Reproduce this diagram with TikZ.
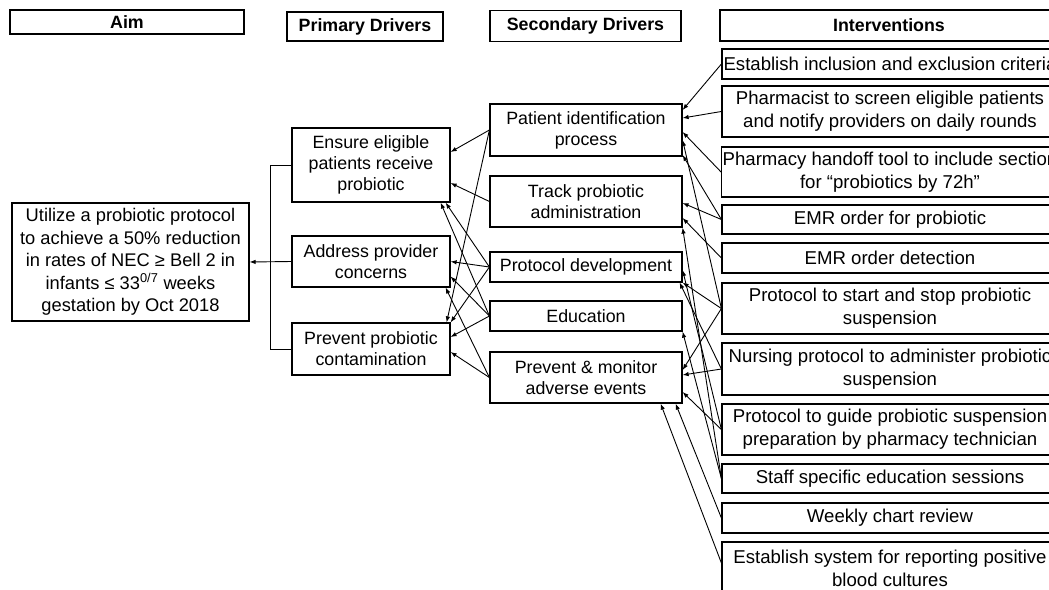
\documentclass[tikz,border=0pt]{standalone}
\usepackage{fontspec}
\setmainfont{Liberation Sans}
\usetikzlibrary{arrows.meta}
\begin{document}
\begin{tikzpicture}[x=1pt,y=-1pt,
  bx/.style={draw=black,line width=1.2pt,inner sep=1pt,align=center,rectangle},
  hdr/.style={bx,font=\bfseries\fontsize{17.8}{21}\selectfont},
  drv/.style={bx,minimum width=158pt,font=\fontsize{17.8}{21}\selectfont},
  sec/.style={bx,minimum width=192pt,font=\fontsize{17.8}{21}\selectfont},
  intv/.style={bx,minimum width=336pt,font=\fontsize{18.6}{23}\selectfont},
  arr/.style={-{Latex[length=6pt,width=4.5pt]},line width=0.9pt}]
\useasboundingbox (0,0) rectangle (1049,589);
\fill[white] (0,0) rectangle (1049,589);
\clip (0,0) rectangle (1049,589);
% headers
\node[hdr,minimum width=234pt,minimum height=24pt] (aimh) at (127,22) {Aim};
\node[hdr,minimum width=156pt,minimum height=29pt] (primh) at (365,26.5) {Primary Drivers};
\node[hdr,minimum width=191pt,minimum height=31pt] (sech) at (585.5,26) {Secondary Drivers};
\node[hdr,minimum width=338pt,minimum height=31pt] (inth) at (889,25.5) {Interventions};
% aim
\node[bx,minimum width=237pt,minimum height=118pt,font=\fontsize{18.3}{22.5}\selectfont] (aim) at (130.5,262)
  {Utilize a probiotic protocol\\to achieve a 50\% reduction\\in rates of NEC ≥ Bell 2 in\\infants ≤ 33\textsuperscript{0/7} weeks\\gestation by Oct 2018};
% primary drivers
\node[drv,minimum height=74pt] (ens) at (371,165) {Ensure eligible\\patients receive\\probiotic};
\node[drv,minimum height=51pt] (addr) at (371,261.5) {Address provider\\concerns};
\node[drv,minimum height=52pt] (prev) at (371,349) {Prevent probiotic\\contamination};
% secondary drivers
\node[sec,minimum height=52pt] (pid) at (586,130) {Patient identification\\process};
\node[sec,minimum height=51pt] (track) at (586,201.5) {Track probiotic\\administration};
\node[sec,minimum height=30pt] (proto) at (586,267) {Protocol development};
\node[sec,minimum height=30pt] (edu) at (586,316) {Education};
\node[sec,minimum height=51pt] (pm) at (586,377.5) {Prevent \& monitor\\adverse events};
% interventions
\node[intv,minimum height=30pt] (est) at (890,64) {Establish inclusion and exclusion criteria};
\node[intv,minimum height=51pt] (pharm) at (890,111.5) {Pharmacist to screen eligible patients\\and notify providers on daily rounds};
\node[intv,minimum height=50pt] (handoff) at (890,172) {Pharmacy handoff tool to include section\\for “probiotics by 72h”};
\node[intv,minimum height=29pt] (emr) at (890,219.5) {EMR order for probiotic};
\node[intv,minimum height=30pt] (det) at (890,258) {EMR order detection};
\node[intv,minimum height=51pt] (start) at (890,308.5) {Protocol to start and stop probiotic\\suspension};
\node[intv,minimum height=52pt] (nurse) at (890,369) {Nursing protocol to administer probiotic\\suspension};
\node[intv,minimum height=51pt] (guide) at (890,429.5) {Protocol to guide probiotic suspension\\preparation by pharmacy technician};
\node[intv,minimum height=29pt] (staff) at (890,478.5) {Staff specific education sessions};
\node[intv,minimum height=30pt] (weekly) at (890,518) {Weekly chart review};
\node[intv,minimum height=52pt] (estsys) at (890,568) {Establish system for reporting positive\\blood cultures};
% bracket to aim
\draw[line width=0.9pt] (ens.west) -- ++(-21,0) |- (prev.west);
\draw[arr] (addr.west) -- (aim.east);
% secondary -> primary
\draw[arr] (pid.west) -- ([yshift=13pt]ens.east);
\draw[arr] (pid.west) -- ([xshift=-4pt]prev.north east);
\draw[arr] (track.west) -- ([yshift=-18pt]ens.east);
\draw[arr] (proto.west) -- ([xshift=-5pt]ens.south east);
\draw[arr] (edu.west) -- ([xshift=-10pt]ens.south east);
\draw[arr] (proto.west) -- (addr.east);
\draw[arr] (edu.west) -- ([yshift=-15pt]addr.east);
\draw[arr] (pm.west) -- ([xshift=-5pt]addr.south east);
\draw[arr] (proto.west) -- (prev.north east);
\draw[arr] (edu.west) -- ([yshift=12pt]prev.east);
\draw[arr] (pm.west) -- ([yshift=-3pt]prev.east);
% interventions -> secondary
\draw[arr] (est.west) -- ([yshift=20pt]pid.east);
\draw[arr] (pharm.west) -- ([yshift=12pt]pid.east);
\draw[arr] (handoff.west) -- ([yshift=-2pt]pid.east);
\draw[arr] (start.west) -- ([yshift=-10pt]pid.east);
\draw[arr] (emr.west) -- ([yshift=-25pt]pid.east);
\draw[arr] (emr.west) -- ([yshift=-1.5pt]track.east);
\draw[arr] (det.west) -- ([yshift=-16.5pt]track.east);
\draw[arr] (staff.west) -- (track.south east);
\draw[arr] (guide.west) -- ([yshift=-3pt]proto.east);
\draw[arr] (start.west) -- (proto.south east);
\draw[arr] (nurse.west) -- ([xshift=-3pt]proto.south east);
\draw[arr] (staff.west) -- (edu.south east);
\draw[arr] (start.west) -- ([yshift=7.5pt]pm.east);
\draw[arr] (nurse.west) -- ([yshift=2.5pt]pm.east);
\draw[arr] (guide.west) -- ([yshift=-14.5pt]pm.east);
\draw[arr] (weekly.west) -- ([xshift=-7pt]pm.south east);
\draw[arr] ([yshift=5pt]estsys.west) -- ([xshift=-22pt]pm.south east);
\end{tikzpicture}
\end{document}
